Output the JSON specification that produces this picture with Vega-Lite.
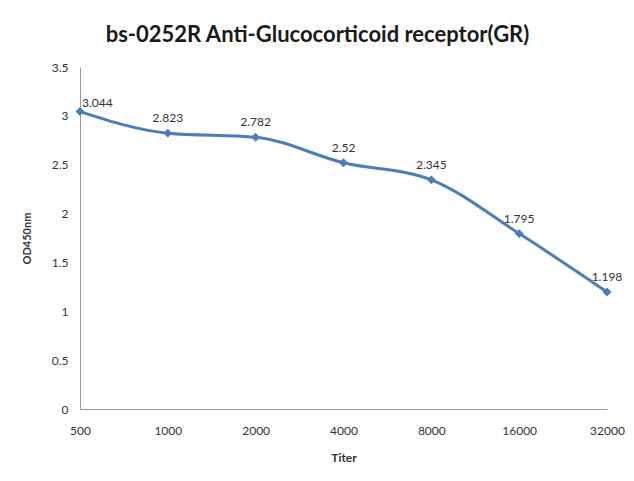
{
  "$schema": "https://vega.github.io/schema/vega-lite/v6.json",
  "width": 527,
  "height": 342,
  "autosize": "none",
  "padding": {"left": 80, "top": 67, "right": 27, "bottom": 72},
  "background": "white",
  "title": {
    "text": "bs-0252R Anti-Glucocorticoid receptor(GR)",
    "font": "Lato",
    "fontSize": 22,
    "fontWeight": "bold",
    "color": "#1a1a1a",
    "anchor": "middle",
    "dx": -26,
    "offset": 14
  },
  "config": {
    "view": {"stroke": null},
    "font": "Lato"
  },
  "data": {
    "values": [
      {"titer": "500", "od": 3.044},
      {"titer": "1000", "od": 2.823},
      {"titer": "2000", "od": 2.782},
      {"titer": "4000", "od": 2.52},
      {"titer": "8000", "od": 2.345},
      {"titer": "16000", "od": 1.795},
      {"titer": "32000", "od": 1.198}
    ]
  },
  "encoding": {
    "x": {
      "field": "titer",
      "type": "ordinal",
      "sort": null,
      "scale": {"type": "point", "padding": 0},
      "axis": {
        "title": "Titer",
        "labelAngle": 0,
        "ticks": false,
        "grid": false,
        "domainColor": "#999999",
        "labelFont": "Lato",
        "labelFontSize": 12,
        "labelColor": "#333333",
        "labelPadding": 16,
        "titleFont": "Lato",
        "titleFontSize": 12,
        "titleFontWeight": "bold",
        "titleColor": "#333333",
        "titlePadding": 16
      }
    },
    "y": {
      "field": "od",
      "type": "quantitative",
      "scale": {"domain": [0, 3.5], "nice": false},
      "axis": {
        "title": "OD450nm",
        "values": [0, 0.5, 1, 1.5, 2, 2.5, 3, 3.5],
        "format": "~g",
        "ticks": false,
        "grid": false,
        "domainColor": "#999999",
        "labelFont": "Lato",
        "labelFontSize": 12,
        "labelColor": "#333333",
        "labelPadding": 12,
        "titleFont": "Lato",
        "titleFontSize": 11,
        "titleFontWeight": "bold",
        "titleColor": "#333333",
        "titlePadding": 19
      }
    }
  },
  "layer": [
    {
      "mark": {"type": "line", "interpolate": "monotone", "color": "#4a7ebb", "strokeWidth": 3}
    },
    {
      "mark": {"type": "point", "shape": "diamond", "filled": true, "size": 80, "color": "#4a7ebb", "opacity": 1}
    },
    {
      "transform": [{"filter": "datum.titer != '500'"}],
      "mark": {"type": "text", "dy": -15, "fontSize": 12, "color": "#333333", "font": "Lato"},
      "encoding": {"text": {"field": "od", "type": "quantitative"}}
    },
    {
      "transform": [{"filter": "datum.titer == '500'"}],
      "mark": {"type": "text", "dy": -9, "dx": 2, "align": "left", "fontSize": 12, "color": "#333333", "font": "Lato"},
      "encoding": {"text": {"field": "od", "type": "quantitative"}}
    }
  ]
}
